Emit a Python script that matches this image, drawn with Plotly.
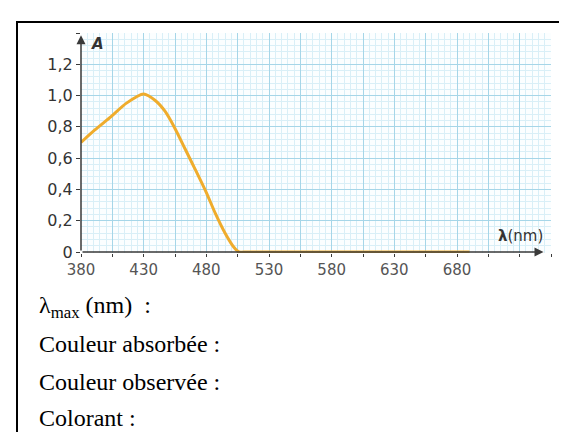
import plotly.graph_objects as go

# --- data ---
wavelength_nm = [380, 391, 404, 416, 430, 439, 447, 455, 463, 471, 480, 487, 495, 502, 506, 512, 520, 550, 600, 650, 690]
absorbance = [0.70, 0.78, 0.866, 0.95, 1.01, 0.97, 0.90, 0.79, 0.66, 0.53, 0.38, 0.25, 0.12, 0.03, 0.0, 0.0, 0.0, 0.0, 0.0, 0.0, 0.0]

x_grid_vals = list(range(380, 756, 25))
x_label_vals = [380, 430, 480, 530, 580, 630, 680]
y_tick_vals = [0, 0.2, 0.4, 0.6, 0.8, 1.0, 1.2, 1.4]
y_tick_text = ["0", "0,2", "0,4", "0,6", "0,8", "1,0", "1,2", ""]
x_tick_text = [str(v) if v in x_label_vals else "" for v in x_grid_vals]

text_lines = ["λ<sub>max</sub> (nm)  :", "Couleur absorbée :", "Couleur observée :", "Colorant :"]

MAJOR = "#a6d6e8"
MINOR = "#d9eff7"
AXIS = "#3a3a3a"

fig = go.Figure()
fig.add_trace(go.Scatter(
    x=wavelength_nm, y=absorbance, mode="lines",
    line=dict(color="#efac2c", width=3, shape="spline", smoothing=0.6),
    hoverinfo="skip", showlegend=False,
))

# plot area: y = 0 sits at 244 px, top (1.4) at 25 px
fig.update_layout(
    width=567, height=432,
    margin=dict(l=73, r=24, t=25, b=187),
    paper_bgcolor="white", plot_bgcolor="#fbfeff",
    showlegend=False,
    font=dict(family="DejaVu Sans", size=15, color="#444"),
    xaxis=dict(
        range=[380, 755], tickmode="array", tickvals=x_grid_vals, ticktext=x_tick_text,
        showgrid=True, gridcolor=MAJOR, gridwidth=1,
        minor=dict(dtick=5, tick0=380, showgrid=True, gridcolor=MINOR, gridwidth=1, ticks=""),
        ticks="outside", ticklen=3, tickcolor=AXIS, showline=False, zeroline=False,
        tickfont=dict(family="DejaVu Sans", size=15, color="#555"),
        fixedrange=True,
    ),
    yaxis=dict(
        range=[-0.0064, 1.4], tickmode="array", tickvals=y_tick_vals, ticktext=y_tick_text,
        showgrid=True, gridcolor=MAJOR, gridwidth=1,
        minor=dict(dtick=0.04, tick0=0, showgrid=True, gridcolor=MINOR, gridwidth=1, ticks=""),
        ticks="outside", ticklen=4, tickcolor=AXIS, showline=False, zeroline=False,
        tickfont=dict(family="DejaVu Sans", size=16, color="#333"),
        fixedrange=True,
    ),
)

# axis arrows
fig.add_annotation(x=749, y=0, ax=380, ay=0, xref="x", yref="y", axref="x", ayref="y",
                   showarrow=True, arrowhead=2, arrowsize=1.2, arrowwidth=1.5, arrowcolor=AXIS, text="")
fig.add_annotation(x=380, y=1.385, ax=380, ay=0, xref="x", yref="y", axref="x", ayref="y",
                   showarrow=True, arrowhead=2, arrowsize=1.2, arrowwidth=1.5, arrowcolor=AXIS, text="")

# axis names
fig.add_annotation(x=393, y=1.33, xref="x", yref="y", text="<b><i>A</i></b>", showarrow=False,
                   xanchor="center", yanchor="middle", font=dict(family="DejaVu Sans", size=15, color="#333"))
fig.add_annotation(x=750, y=0.105, xref="x", yref="y", text="<b>λ</b>(nm)", showarrow=False,
                   xanchor="right", yanchor="middle", font=dict(family="DejaVu Sans", size=15, color="#333"))

# frame (open at right and bottom, cropped)
fig.add_shape(type="rect", xref="paper", yref="paper",
              x0=(9 - 73) / 470, x1=(600 - 73) / 470, y0=(245 - 470) / 220, y1=(245 - 14) / 220,
              line=dict(color="black", width=2), fillcolor="rgba(0,0,0,0)", layer="above")

# text lines below the chart
line_y_px = [299, 336, 374, 410]
for txt, py in zip(text_lines, line_y_px):
    fig.add_annotation(x=(29 - 73) / 470, y=(245 - py) / 220, xref="paper", yref="paper",
                       text=txt, showarrow=False, xanchor="left", yanchor="middle",
                       font=dict(family="Liberation Serif", size=24, color="black"))

fig.write_html("out.html")
